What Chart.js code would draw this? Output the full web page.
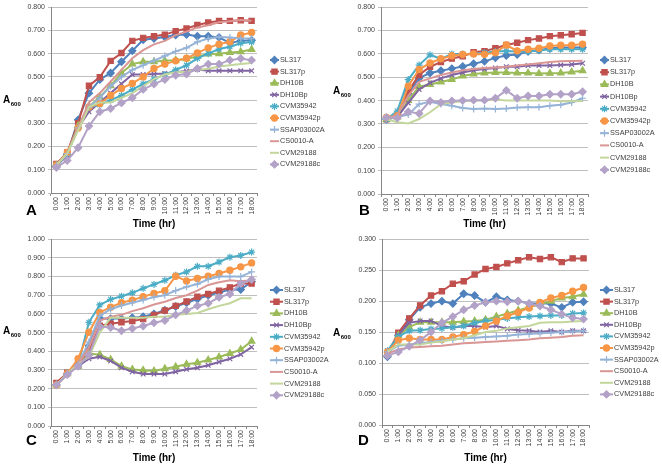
<!DOCTYPE html>
<html>
<head>
<meta charset="utf-8">
<script src="https://cdn.jsdelivr.net/npm/chart.js@4.4.1/dist/chart.umd.min.js"></script>
<style>
  body { margin: 0; background: #fff; }
  #wrap { position: relative; width: 662px; height: 467px; }
  canvas { position: absolute; }
</style>
</head>
<body>
<div id="wrap">
  <canvas id="panelA" width="331" height="232" style="left:0;top:0"></canvas>
  <canvas id="panelB" width="331" height="232" style="left:331px;top:0"></canvas>
  <canvas id="panelC" width="331" height="235" style="left:0;top:232px"></canvas>
  <canvas id="panelD" width="331" height="235" style="left:331px;top:232px"></canvas>
</div>
<script>
const hours = ['0:00','1:00','2:00','3:00','4:00','5:00','6:00','7:00','8:00','9:00',
  '10:00','11:00','12:00','13:00','14:00','15:00','16:00','17:00','18:00'];

const strains = ['SL317','SL317p','DH10B','DH10Bp','CVM35942','CVM35942p',
  'SSAP03002A','CS0010-A','CVM29188','CVM29188c'];

// A600 readings, one row per strain (same order as strains)
const growthA = [
  [0.115,0.165,0.315,0.43,0.488,0.517,0.565,0.612,0.66,0.665,0.672,0.68,0.682,0.675,0.675,0.67,0.646,0.655,0.658],
  [0.125,0.175,0.30,0.462,0.498,0.569,0.603,0.655,0.668,0.675,0.682,0.697,0.708,0.723,0.734,0.741,0.741,0.744,0.741],
  [0.12,0.17,0.29,0.37,0.414,0.462,0.517,0.555,0.565,0.565,0.57,0.572,0.578,0.588,0.598,0.60,0.605,0.608,0.618],
  [0.12,0.17,0.28,0.35,0.39,0.43,0.47,0.51,0.51,0.512,0.515,0.52,0.525,0.532,0.526,0.526,0.526,0.526,0.526],
  [0.12,0.17,0.28,0.37,0.38,0.40,0.42,0.445,0.47,0.49,0.51,0.53,0.55,0.58,0.60,0.62,0.63,0.645,0.65],
  [0.12,0.175,0.28,0.37,0.385,0.42,0.45,0.472,0.50,0.536,0.555,0.569,0.58,0.603,0.625,0.641,0.651,0.68,0.691],
  [0.12,0.17,0.28,0.37,0.41,0.46,0.50,0.53,0.55,0.57,0.59,0.61,0.625,0.651,0.665,0.672,0.67,0.665,0.665],
  [0.12,0.17,0.28,0.39,0.43,0.48,0.53,0.58,0.615,0.64,0.655,0.68,0.695,0.713,0.722,0.735,0.74,0.745,0.742],
  [0.12,0.17,0.27,0.37,0.39,0.39,0.41,0.43,0.46,0.49,0.51,0.52,0.522,0.53,0.535,0.545,0.55,0.555,0.56],
  [0.11,0.14,0.195,0.288,0.35,0.364,0.388,0.41,0.446,0.469,0.489,0.507,0.512,0.536,0.555,0.555,0.572,0.579,0.572]
];

const growthB = [
  [0.32,0.34,0.43,0.497,0.518,0.528,0.537,0.546,0.558,0.568,0.583,0.593,0.597,0.61,0.616,0.624,0.627,0.627,0.627],
  [0.32,0.34,0.44,0.51,0.545,0.565,0.58,0.59,0.607,0.612,0.624,0.638,0.648,0.659,0.666,0.676,0.68,0.684,0.69],
  [0.32,0.33,0.40,0.46,0.469,0.48,0.49,0.505,0.514,0.518,0.52,0.52,0.518,0.518,0.516,0.517,0.518,0.522,0.528],
  [0.32,0.33,0.39,0.448,0.476,0.495,0.51,0.52,0.53,0.535,0.54,0.545,0.545,0.55,0.55,0.55,0.552,0.555,0.56],
  [0.32,0.355,0.49,0.552,0.596,0.579,0.60,0.60,0.60,0.605,0.61,0.612,0.61,0.61,0.615,0.62,0.62,0.62,0.62],
  [0.328,0.335,0.462,0.533,0.561,0.579,0.592,0.598,0.60,0.598,0.605,0.638,0.613,0.62,0.624,0.634,0.637,0.637,0.642],
  [0.32,0.33,0.34,0.385,0.395,0.385,0.378,0.368,0.364,0.366,0.364,0.366,0.37,0.372,0.372,0.378,0.382,0.392,0.41],
  [0.32,0.34,0.42,0.48,0.495,0.51,0.52,0.53,0.535,0.54,0.542,0.545,0.55,0.555,0.56,0.565,0.568,0.57,0.571],
  [0.32,0.307,0.302,0.321,0.35,0.385,0.392,0.397,0.40,0.40,0.405,0.40,0.40,0.40,0.40,0.40,0.397,0.397,0.398],
  [0.328,0.325,0.352,0.345,0.399,0.392,0.399,0.40,0.402,0.402,0.41,0.444,0.41,0.42,0.42,0.427,0.427,0.427,0.438]
];

const growthC = [
  [0.22,0.28,0.33,0.43,0.575,0.575,0.575,0.58,0.585,0.60,0.62,0.64,0.66,0.68,0.70,0.715,0.73,0.731,0.772],
  [0.23,0.285,0.33,0.40,0.537,0.548,0.555,0.562,0.572,0.595,0.618,0.643,0.666,0.692,0.707,0.724,0.742,0.763,0.763],
  [0.22,0.28,0.32,0.388,0.382,0.356,0.32,0.303,0.298,0.295,0.307,0.317,0.33,0.339,0.353,0.369,0.388,0.409,0.454],
  [0.22,0.28,0.32,0.36,0.37,0.348,0.312,0.29,0.278,0.278,0.278,0.29,0.304,0.312,0.325,0.343,0.36,0.383,0.422],
  [0.22,0.28,0.33,0.555,0.648,0.678,0.695,0.713,0.737,0.758,0.78,0.807,0.825,0.855,0.855,0.878,0.904,0.913,0.931],
  [0.22,0.28,0.36,0.502,0.608,0.636,0.66,0.674,0.692,0.71,0.724,0.802,0.776,0.79,0.802,0.816,0.834,0.852,0.873],
  [0.22,0.28,0.33,0.45,0.59,0.625,0.645,0.66,0.675,0.69,0.70,0.725,0.745,0.76,0.785,0.80,0.80,0.80,0.825],
  [0.22,0.28,0.33,0.42,0.565,0.585,0.595,0.615,0.63,0.65,0.665,0.685,0.70,0.725,0.755,0.77,0.78,0.775,0.78],
  [0.22,0.28,0.33,0.37,0.50,0.58,0.58,0.58,0.58,0.585,0.585,0.595,0.60,0.605,0.625,0.643,0.657,0.684,0.684],
  [0.22,0.275,0.32,0.38,0.532,0.527,0.51,0.522,0.535,0.553,0.565,0.595,0.618,0.643,0.657,0.689,0.707,0.763,0.784]
];

const growthD = [
  [0.11,0.145,0.17,0.19,0.196,0.20,0.196,0.212,0.209,0.198,0.207,0.202,0.20,0.196,0.196,0.196,0.19,0.198,0.199],
  [0.115,0.149,0.172,0.193,0.209,0.216,0.228,0.232,0.243,0.252,0.255,0.261,0.266,0.271,0.268,0.271,0.263,0.269,0.269],
  [0.115,0.145,0.158,0.166,0.166,0.166,0.166,0.167,0.168,0.17,0.175,0.18,0.185,0.19,0.195,0.20,0.205,0.207,0.211],
  [0.115,0.145,0.165,0.168,0.168,0.16,0.157,0.16,0.16,0.158,0.16,0.155,0.153,0.152,0.15,0.152,0.15,0.152,0.152],
  [0.12,0.143,0.152,0.153,0.155,0.156,0.158,0.16,0.165,0.168,0.17,0.172,0.174,0.175,0.176,0.177,0.177,0.18,0.181],
  [0.118,0.137,0.14,0.138,0.138,0.138,0.142,0.146,0.151,0.16,0.168,0.176,0.182,0.189,0.198,0.205,0.209,0.216,0.222],
  [0.118,0.128,0.13,0.132,0.134,0.136,0.138,0.14,0.141,0.142,0.143,0.144,0.146,0.147,0.148,0.149,0.15,0.151,0.152],
  [0.115,0.122,0.125,0.126,0.127,0.128,0.13,0.132,0.133,0.134,0.135,0.136,0.137,0.138,0.14,0.141,0.142,0.144,0.145],
  [0.118,0.13,0.13,0.13,0.133,0.135,0.138,0.14,0.145,0.15,0.152,0.156,0.158,0.16,0.165,0.166,0.166,0.167,0.168],
  [0.112,0.118,0.127,0.137,0.15,0.165,0.175,0.186,0.193,0.198,0.2,0.199,0.2,0.196,0.192,0.186,0.179,0.173,0.171]
];

// excel 2007 style series look
const colors = ['#4F81BD','#C0504D','#9BBB59','#8064A2','#4BACC6','#F79646',
  '#95B3D7','#D99694','#C3D69B','#B3A2C7'];
const markers = ['rectRot','rect','triangle','crossRot','star','circle','cross',false,false,'rectRot'];
const markerSize = {rectRot: 3.6, rect: 3.7, triangle: 3.8, crossRot: 3.3, star: 3.5, circle: 3.1, cross: 3.5};

const FONT = "'Liberation Sans', Arial, sans-serif";

function drawMarker(ctx, style, color, x, y) {
  if (!style) return;
  ctx.save();
  ctx.fillStyle = color;
  ctx.strokeStyle = color;
  ctx.lineWidth = 1.2;
  if (Chart.helpers && Chart.helpers.drawPoint) {
    Chart.helpers.drawPoint(ctx, {pointStyle: style, radius: markerSize[style], rotation: 0, borderWidth: 1.2}, x, y);
  } else {
    ctx.beginPath(); ctx.arc(x, y, 3, 0, Math.PI * 2); ctx.fill();
  }
  ctx.restore();
}

// y label with subscript, panel letter and legend
const decor = {
  id: 'decor',
  afterDraw(chart, args, o) {
    const ctx = chart.ctx;
    ctx.save();
    ctx.fillStyle = '#000';
    ctx.textBaseline = 'alphabetic';
    ctx.font = 'bold 15px ' + FONT;
    ctx.fillText(o.letter, o.letterX, o.letterY);
    ctx.font = 'bold 10px ' + FONT;
    ctx.fillText('A', o.labX, o.labY);
    const w = ctx.measureText('A').width;
    ctx.font = 'bold 6px ' + FONT;
    ctx.fillText('600', o.labX + w + 0.5, o.labY + 3);

    ctx.font = '7.3px ' + FONT;
    ctx.textBaseline = 'middle';
    strains.forEach((name, i) => {
      const y = o.legY + i * o.legStep;
      ctx.strokeStyle = colors[i];
      ctx.lineWidth = 2;
      ctx.beginPath();
      ctx.moveTo(o.legX, y);
      ctx.lineTo(o.legX + o.symW, y);
      ctx.stroke();
      drawMarker(ctx, markers[i], colors[i], o.legX + o.symW / 2, y);
      ctx.fillStyle = '#404040';
      ctx.fillText(name, o.legX + o.symW + 1, y);
    });
    ctx.restore();
  }
};

function makePanel(id, rows, opt) {
  const canvas = document.getElementById(id);
  const datasets = rows.map((vals, i) => ({
    label: strains[i],
    data: vals,
    borderColor: colors[i],
    backgroundColor: colors[i],
    borderWidth: 2,
    tension: 0,
    pointStyle: markers[i] || 'circle',
    pointRadius: markers[i] ? markerSize[markers[i]] : 0,
    pointBorderWidth: 1.2,
    pointHoverRadius: 0,
    order: 10 - i
  }));

  return new Chart(canvas.getContext('2d'), {
    type: 'line',
    data: { labels: hours, datasets: datasets },
    plugins: [decor],
    options: {
      responsive: false,
      animation: false,
      events: [],
      layout: { padding: { left: 0, top: opt.top, right: canvas.width - opt.right, bottom: 0 } },
      plugins: {
        legend: { display: false },
        tooltip: { enabled: false },
        decor: opt.decor
      },
      scales: {
        x: {
          type: 'category',
          offset: true,
          afterFit: s => { s.height = canvas.height - opt.bottom; },
          grid: { display: true, offset: true, drawOnChartArea: false, drawTicks: true, tickLength: 3, color: '#868686' },
          border: { color: '#868686', width: 1 },
          ticks: {
            autoSkip: false, maxRotation: 90, minRotation: 90, padding: 1,
            color: '#404040', font: { family: FONT, size: 7 }
          },
          title: {
            display: true, text: 'Time (hr)', color: '#000',
            font: { family: FONT, size: 10, weight: 'bold' },
            padding: { top: 0, bottom: opt.titlePad }
          }
        },
        y: {
          min: 0, max: opt.max,
          afterFit: s => { s.width = opt.left; },
          grid: { color: '#BFBFBF', tickLength: 3, drawTicks: true },
          border: { color: '#868686', width: 1 },
          ticks: {
            stepSize: opt.step, padding: 3, color: '#404040',
            font: { family: FONT, size: 7 },
            callback: v => v.toFixed(3)
          }
        }
      }
    }
  });
}

makePanel('panelA', growthA, {
  left: 51, top: 7, right: 257, bottom: 193, max: 0.8, step: 0.1, titlePad: 2,
  decor: { letter: 'A', letterX: 26, letterY: 215, labX: 3, labY: 103, legX: 270, legY: 60, legStep: 11.6, symW: 9 }
});
makePanel('panelB', growthB, {
  left: 50, top: 5, right: 257, bottom: 194, max: 0.8, step: 0.1, titlePad: 2,
  decor: { letter: 'B', letterX: 28, letterY: 215, labX: 2, labY: 94, legX: 269, legY: 60, legStep: 12.2, symW: 9 }
});
makePanel('panelC', growthC, {
  left: 51, top: 5, right: 257, bottom: 194, max: 1.0, step: 0.1, titlePad: 3,
  decor: { letter: 'C', letterX: 26, letterY: 213, labX: 3, labY: 102, legX: 270, legY: 58, legStep: 11.7, symW: 13 }
});
makePanel('panelD', growthD, {
  left: 51, top: 5, right: 258, bottom: 193, max: 0.3, step: 0.05, titlePad: 3,
  decor: { letter: 'D', letterX: 27, letterY: 213, labX: 2, labY: 104, legX: 269, legY: 58, legStep: 11.6, symW: 13 }
});
</script>
</body>
</html>
